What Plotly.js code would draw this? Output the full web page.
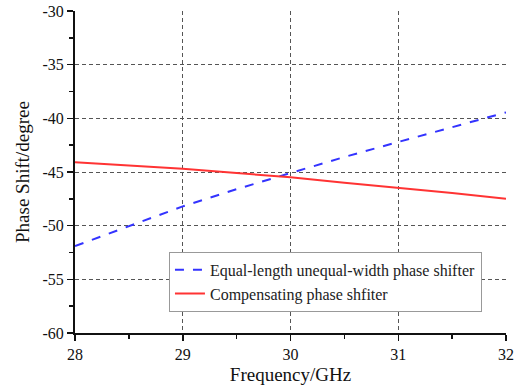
<!DOCTYPE html>
<html><head><meta charset="utf-8">
<script src="https://cdn.plot.ly/plotly-3.0.1.min.js"></script>
<style>html,body{margin:0;padding:0;background:#fff}#plot{width:527px;height:387px}</style>
</head><body><div id="plot"></div>
<script>
const freq = [28, 28.5, 29, 29.5, 30, 30.5, 31, 31.5, 32];
const equalLength = [-51.9, -50.05, -48.2, -46.6, -45.1, -43.6, -42.2, -40.8, -39.45];
const compensating = [-44.1, -44.4, -44.7, -45.1, -45.5, -46.0, -46.45, -46.95, -47.5];
const xTicks = [28, 29, 30, 31, 32];
const yTicks = [-60, -55, -50, -45, -40, -35, -30];
const font = 'Liberation Serif';

const traces = [
  {x: freq, y: equalLength, mode: 'lines', name: 'Equal-length unequal-width phase shifter',
   line: {color: '#3333ff', width: 2, dash: 'dash'}},
  {x: freq, y: compensating, mode: 'lines', name: 'Compensating phase shfiter',
   line: {color: '#ff3333', width: 2}}
];
const axCommon = {showline: true, linecolor: '#111', linewidth: 2, zeroline: false,
  tickcolor: '#111', tickwidth: 1.5};
const layout = {
  width: 527, height: 387,
  margin: {l: 75, r: 21, t: 11, b: 54},
  paper_bgcolor: '#fff', plot_bgcolor: '#fff',
  font: {family: font, size: 16, color: '#111'},
  showlegend: true,
  legend: {x: 0.218, y: 0.252, xanchor: 'left', yanchor: 'top',
    bordercolor: '#999', borderwidth: 1, bgcolor: '#fff',
    font: {family: font, size: 16, color: '#222'}, tracegroupgap: 0},
  xaxis: Object.assign({}, axCommon, {range: [28, 32], tickvals: xTicks, ticktext: xTicks.map(String),
    tickfont: {family: font, size: 16, color: '#111'},
    ticks: 'outside', ticklen: 6,
    minor: {dtick: 0.5, ticks: 'outside', ticklen: 4, tickwidth: 1.5, tickcolor: '#111', showgrid: false},
    showgrid: true, gridcolor: '#555', griddash: '4px,3px', gridwidth: 1,
    title: {text: 'Frequency/GHz', font: {family: font, size: 19, color: '#111'}, standoff: 5}}),
  yaxis: Object.assign({}, axCommon, {range: [-60, -30], tickvals: yTicks, ticktext: yTicks.map(String),
    tickfont: {family: font, size: 16, color: '#111'},
    ticks: 'outside', ticklen: 6,
    minor: {dtick: 2.5, ticks: 'outside', ticklen: 4, tickwidth: 1.5, tickcolor: '#111', showgrid: false},
    showgrid: true, gridcolor: '#555', griddash: '4px,3px', gridwidth: 1,
    title: {text: 'Phase Shift/degree', font: {family: font, size: 19, color: '#111'}, standoff: 8}}),
  xaxis2: Object.assign({}, axCommon, {overlaying: 'x', side: 'top', anchor: 'y', range: [28, 32],
    tickvals: xTicks, showticklabels: false, ticks: 'inside', ticklen: 6, showgrid: false,
    minor: {dtick: 0.5, ticks: 'inside', ticklen: 4, tickwidth: 1.5, tickcolor: '#111', showgrid: false}}),
  yaxis2: Object.assign({}, axCommon, {overlaying: 'y', side: 'right', anchor: 'x', range: [-60, -30],
    tickvals: yTicks, showticklabels: false, ticks: 'inside', ticklen: 6, showgrid: false,
    minor: {dtick: 2.5, ticks: 'inside', ticklen: 4, tickwidth: 1.5, tickcolor: '#111', showgrid: false}})
};
Plotly.newPlot('plot', traces, layout, {displayModeBar: false, staticPlot: true});
</script></body></html>
